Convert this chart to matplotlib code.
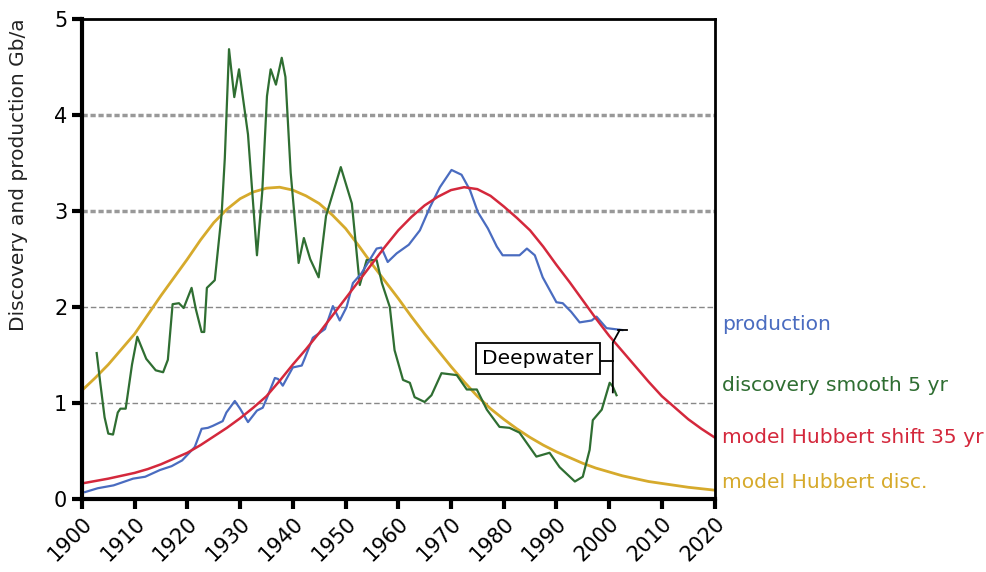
import numpy as np
import matplotlib.pyplot as plt

# production (Gb/a)
prod_years = [1900.6, 1903, 1906, 1909.7, 1912, 1914.8, 1917, 1919, 1921.4, 1922.7,
              1923.9, 1924.8, 1926.7, 1927.4, 1929, 1930, 1931.5, 1933.2, 1934.3, 1935,
              1936.6, 1937.2, 1938.1, 1940, 1941.7, 1942.3, 1943.8, 1946.1, 1947.6, 1948.9,
              1950.2, 1951.4, 1953, 1955.9, 1956.8, 1958, 1959.7, 1962, 1964.1, 1966,
              1967.9, 1970.1, 1972, 1973.6, 1975.1, 1977, 1978.7, 1979.8, 1983, 1984.4,
              1985.9, 1987.4, 1990, 1991.2, 1992.8, 1994.4, 1996.7, 1997.6, 1999.5, 2002.5]
prod_vals = [0.07, 0.11, 0.14, 0.21, 0.23, 0.30, 0.34, 0.40, 0.54, 0.73,
             0.74, 0.76, 0.81, 0.90, 1.02, 0.94, 0.80, 0.92, 0.95, 1.04,
             1.26, 1.25, 1.18, 1.37, 1.39, 1.47, 1.68, 1.77, 2.01, 1.86,
             2.00, 2.25, 2.35, 2.61, 2.62, 2.47, 2.56, 2.65, 2.80, 3.04,
             3.25, 3.43, 3.38, 3.22, 2.99, 2.82, 2.63, 2.54, 2.54, 2.61,
             2.54, 2.31, 2.05, 2.04, 1.95, 1.84, 1.86, 1.90, 1.78, 1.76]

# discovery smoothed 5 yr
disc_years = [1902.8, 1903.5, 1904.3, 1905, 1905.9, 1906.8, 1907.3, 1908.3, 1909.5, 1910.5,
              1912.2, 1914, 1915.4, 1916.3, 1917.2, 1918.4, 1919.3, 1920.8, 1921.6, 1922.7,
              1923.2, 1923.7, 1925.2, 1926.5, 1927.1, 1927.9, 1928.9, 1929.8, 1931.5, 1933.2,
              1934.2, 1935.1, 1935.8, 1936.8, 1937.9, 1938.6, 1939.6, 1941.1, 1942.1, 1943.3,
              1944.9, 1946.3, 1949.1, 1951.2, 1952.7, 1954, 1955.9, 1956.9, 1958.4, 1959.3,
              1960.9, 1962.2, 1963.1, 1965, 1966.3, 1968.2, 1971.1, 1973, 1974.9, 1976.8,
              1979.2, 1981.1, 1983, 1986.2, 1988.7, 1990.6, 1993.5, 1995, 1996.3, 1996.9,
              1998.6, 2000.1, 2000.7, 2001.4]
disc_vals = [1.52, 1.20, 0.85, 0.68, 0.67, 0.90, 0.94, 0.94, 1.40, 1.69,
             1.46, 1.34, 1.32, 1.45, 2.03, 2.04, 1.99, 2.20, 1.98, 1.74,
             1.74, 2.20, 2.28, 2.97, 3.55, 4.69, 4.19, 4.48, 3.80, 2.54,
             3.20, 4.20, 4.48, 4.32, 4.60, 4.40, 3.40, 2.46, 2.72, 2.50,
             2.31, 2.95, 3.46, 3.08, 2.23, 2.49, 2.49, 2.25, 2.00, 1.55,
             1.24, 1.21, 1.06, 1.01, 1.08, 1.31, 1.29, 1.14, 1.14, 0.93,
             0.75, 0.74, 0.69, 0.44, 0.48, 0.33, 0.18, 0.23, 0.51, 0.82,
             0.93, 1.21, 1.17, 1.08]

# model curves, read every 2.5 years
model_years = [1900 + 2.5 * i for i in range(49)]
hub_shift = [0.16, 0.185, 0.21, 0.24, 0.27, 0.31, 0.36, 0.42, 0.48, 0.56,
             0.65, 0.74, 0.84, 0.95, 1.07, 1.23, 1.40, 1.56, 1.73, 1.91,
             2.09, 2.27, 2.45, 2.63, 2.80, 2.94, 3.06, 3.15, 3.22, 3.25,
             3.23, 3.16, 3.05, 2.93, 2.80, 2.63, 2.44, 2.26, 2.07, 1.88,
             1.70, 1.54, 1.38, 1.22, 1.07, 0.95, 0.83, 0.73, 0.64]
hub_disc = [1.13, 1.26, 1.40, 1.56, 1.72, 1.92, 2.12, 2.31, 2.50, 2.70,
            2.88, 3.02, 3.13, 3.20, 3.24, 3.25, 3.22, 3.16, 3.08, 2.96,
            2.82, 2.64, 2.45, 2.27, 2.09, 1.90, 1.72, 1.55, 1.38, 1.22,
            1.07, 0.94, 0.83, 0.73, 0.64, 0.56, 0.49, 0.43, 0.37, 0.32,
            0.28, 0.24, 0.21, 0.18, 0.16, 0.14, 0.12, 0.105, 0.09]

c_prod = '#4a6cc0'
c_disc = '#2f6e32'
c_shift = '#d4283c'
c_hdisc = '#d6aa2c'

fig = plt.figure(figsize=(9.87, 5.72), dpi=100)
ax = fig.add_axes([0.083, 0.128, 0.641, 0.838])

for g in [1, 2]:
    ax.axhline(g, color='#888888', lw=1.0, ls=(0, (4, 2)), zorder=0)
for g in [3, 4]:
    ax.axhline(g, color='#999999', lw=2.5, ls=(0, (1.5, 0.8)), zorder=0)

ax.plot(model_years, hub_disc, color=c_hdisc, lw=2)
ax.plot(disc_years, disc_vals, color=c_disc, lw=1.6)
ax.plot(prod_years, prod_vals, color=c_prod, lw=1.6)
ax.plot(model_years, hub_shift, color=c_shift, lw=1.8)

# Deepwater bracket
ax.plot([2000.7, 2000.7, 2002.0], [1.11, 1.63, 1.76], color='black', lw=1.3)
ax.plot([2001.6, 2003.3], [1.76, 1.76], color='black', lw=1.3)
ax.plot([1997.8, 2000.7], [1.44, 1.44], color='black', lw=1.3)
ax.text(1986.5, 1.46, 'Deepwater', fontsize=14.5, ha='center', va='center',
        bbox=dict(boxstyle='square,pad=0.3', fc='white', ec='black', lw=1.3))

ax.set_xlim(1900, 2020)
ax.set_ylim(0, 5)
ax.set_xticks(range(1900, 2021, 10))
ax.set_yticks(range(0, 6))
ax.tick_params(axis='both', direction='out', length=7, width=3, labelsize=15)
plt.setp(ax.get_xticklabels(), rotation=45, ha='right', rotation_mode='anchor')
for s in ['left', 'bottom']:
    ax.spines[s].set_linewidth(3)
for s in ['top', 'right']:
    ax.spines[s].set_linewidth(2)

ax.set_ylabel('Discovery and production Gb/a', fontsize=14.5, color='#222222')
ax.yaxis.set_label_coords(-0.085, 0.676)

lx = 1.012
tr = ax.get_yaxis_transform()
ax.text(lx, 1.82, 'production', color=c_prod, fontsize=14.6, va='center', transform=tr)
ax.text(lx, 1.18, 'discovery smooth 5 yr', color=c_disc, fontsize=14.6, va='center', transform=tr)
ax.text(lx, 0.64, 'model Hubbert shift 35 yr', color=c_shift, fontsize=14.6, va='center', transform=tr)
ax.text(lx, 0.17, 'model Hubbert disc.', color=c_hdisc, fontsize=14.6, va='center', transform=tr)

fig.savefig('out.png', dpi=100)
